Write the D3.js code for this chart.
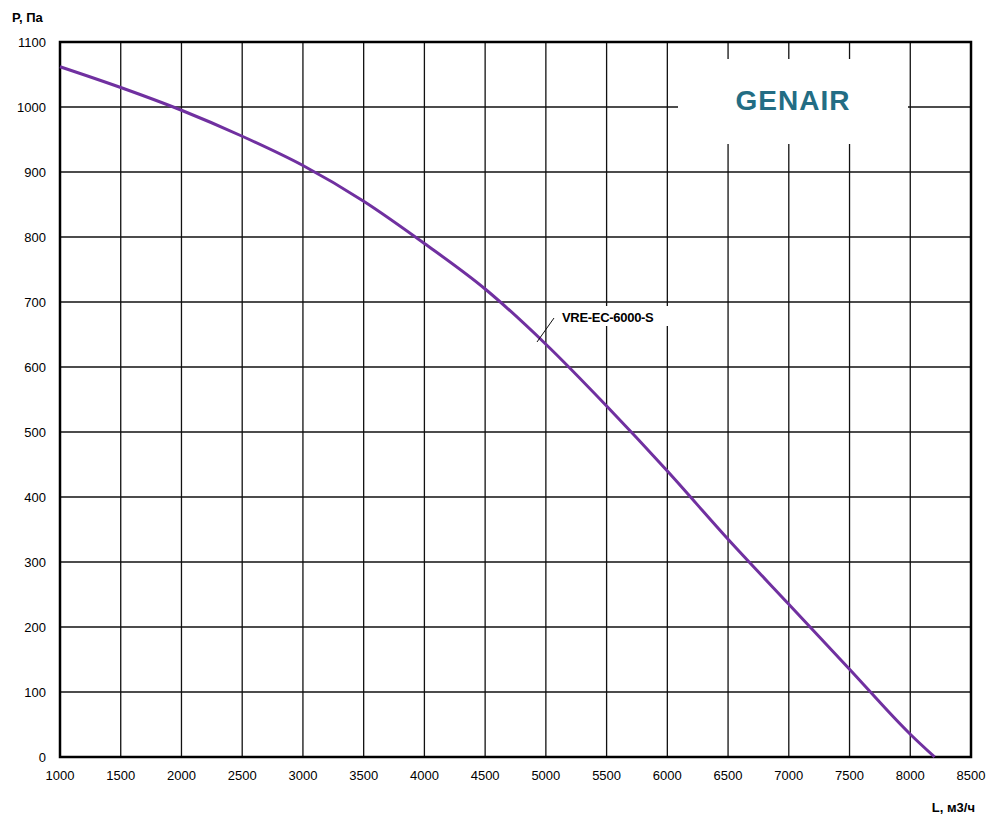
<!DOCTYPE html><html><head><meta charset="utf-8"><script src="https://cdn.jsdelivr.net/npm/d3@7"></script>
<style>body{margin:0;background:#fff}</style></head><body><svg id="c" width="1000" height="828"></svg>
<script>
const xTicks=[1000,1500,2000,2500,3000,3500,4000,4500,5000,5500,6000,6500,7000,7500,8000,8500];
const yTicks=[0,100,200,300,400,500,600,700,800,900,1000,1100];
const flow=[1000,1500,2000,2500,3000,3500,4000,4500,5000,5500,6000,6500,7000,7500,8000,8200];
const pressure=[1062,1030,995,955,910,855,790,720,635,540,440,335,235,135,35,0];
const seriesName="VRE-EC-6000-S";
const svg=d3.select("#c");
const x=d3.scaleLinear().domain([1000,8500]).range([60,971]);
const y=d3.scaleLinear().domain([0,1100]).range([757,42]);
const g=svg.append("g");
g.selectAll("line.v").data(xTicks).join("line").attr("x1",d=>x(d)).attr("x2",d=>x(d)).attr("y1",42).attr("y2",757).attr("stroke","#111").attr("stroke-width",1.3);
g.selectAll("line.h").data(yTicks).join("line").attr("y1",d=>y(d)).attr("y2",d=>y(d)).attr("x1",60).attr("x2",971).attr("stroke","#111").attr("stroke-width",1.3);
svg.append("rect").attr("x",678).attr("y",59).attr("width",230).attr("height",85).attr("fill","#fff");
svg.append("rect").attr("x",555).attr("y",306).attr("width",122).attr("height",20).attr("fill","#fff");
svg.append("rect").attr("x",60).attr("y",42).attr("width",911).attr("height",715).attr("fill","none").attr("stroke","#000").attr("stroke-width",2.5);
svg.append("path").datum(flow.map((f,i)=>[f,pressure[i]])).attr("d",d3.line().x(d=>x(d[0])).y(d=>y(d[1])).curve(d3.curveMonotoneX)).attr("fill","none").attr("stroke","#7030a0").attr("stroke-width",3);
svg.append("line").attr("x1",537).attr("y1",342).attr("x2",554).attr("y2",318).attr("stroke","#111").attr("stroke-width",1);
svg.append("text").attr("x",562).attr("y",322).text(seriesName).attr("font-family","Arial, Liberation Sans").attr("font-weight","bold").attr("font-size",13).attr("letter-spacing","-0.3");
const f="Liberation Sans, Arial";
svg.selectAll("text.xt").data(xTicks).join("text").attr("x",d=>x(d)).attr("y",780).attr("text-anchor","middle").attr("font-family",f).attr("font-size",13).text(d=>d);
svg.selectAll("text.yt").data(yTicks).join("text").attr("x",46).attr("y",d=>y(d)+5).attr("text-anchor","end").attr("font-family",f).attr("font-size",13).text(d=>d);
svg.append("text").attr("x",12).attr("y",22).attr("font-family",f).attr("font-weight","bold").attr("font-size",13).text("P, Па");
svg.append("text").attr("x",975).attr("y",812).attr("text-anchor","end").attr("font-family",f).attr("font-weight","bold").attr("font-size",13).text("L, м3/ч");
svg.append("text").attr("x",793).attr("y",110).attr("text-anchor","middle").attr("font-family",f).attr("font-weight","bold").attr("font-size",28).attr("fill","#236d84").attr("letter-spacing","1").text("GENAIR");
</script></body></html>
